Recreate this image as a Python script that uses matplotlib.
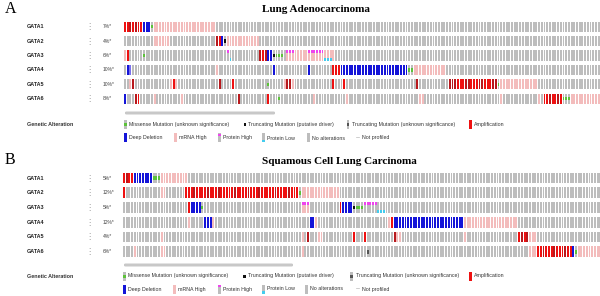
import matplotlib
matplotlib.use('Agg')
import matplotlib.pyplot as plt
from matplotlib.patches import Rectangle, FancyBboxPatch
from matplotlib.lines import Line2D
import matplotlib.transforms as mtransforms

# ---------------- data ----------------
genes = ['GATA1', 'GATA2', 'GATA3', 'GATA4', 'GATA5', 'GATA6']
luad_title = 'Lung Adenocarcinoma'
lusc_title = 'Squamous Cell Lung Carcinoma'
luad_pct = ['7%*', '4%*', '6%*', '10%*', '10%*', '8%*']
lusc_pct = ['5%*', '12%*', '5%*', '12%*', '4%*', '6%*']
luad_n = 176
lusc_n = 177

# run-length alteration codes per sample (code + count)
# . none, A amp, R amp(dark), D deep del, d deep del (light), H mRNA high,
# M missense, T truncating driver, U truncating unknown, P/p protein high, L/l protein low
luad_runs = [
    "A2 R1 A1 R1 A2 D3 M1 H23",
    ".11 H6 .17 R1 A1 D1 T1 H12",
    "H1 A1 .5 M1 .30 p1 L1 .10 R1 A1 R1 D2 T1 M3 .1 P3 H5 P6 l3 H1",
    ".1 D1 d1 .31 H1 .20 D1 .12 D1 .8 A3 D25 M2 H12",
    ".2 H1 R1 .13 H1 A1 H1 .15 R1 .4 A1 .12 M1 .5 H1 R2 H1 .14 A1 .3 A1 .26 R1 .11 R3 A3 R2 A3 R2 A3 R2 M1 H14",
    "D1 .3 R1 A1 .5 H1 .9 H1 .20 R1 .10 A1 .3 M1 .12 H1 .11 H1 .26 H2 .28 H1 .13 H1 .1 A2 R1 A2 R1 A1 M3 H11",
]
lusc_runs = [
    "A1 R1 A2 D7 M3 H10",
    "A1 .13 H2 .7 A3 R1 A4 R1 A3 R1 A5 R1 A4 R1 A3 R1 A5 R1 A4 R1 A3 M1 H14",
    ".24 A1 D4 M1 .36 P3 .11 A1 D4 T1 M3 p5 L3",
    ".24 H1 .5 D3 H1 .35 D2 H1 .26 H1 A1 D26 H20",
    ".14 H1 .51 H1 .1 R1 .3 H2 .11 A1 .3 A1 .10 R1 H2 .23 H1 .19 A1 R1 A1 R1 H3",
    ".4 H1 .9 H2 .50 H1 .23 U1 .59 H3 A2 R1 A3 R1 A3 R1 A2 D1 M1 H9",
]

legend_row1 = ['Missense Mutation (unknown significance)', 'Truncating Mutation (putative driver)',
               'Truncating Mutation (unknown significance)', 'Amplification']
legend_row2 = ['Deep Deletion', 'mRNA High', 'Protein High', 'Protein Low', 'No alterations', 'Not profiled']

# ---------------- style ----------------
GRAY = '#bdbdbd'
AMP = '#ee1111'
AMP_DARK = '#b8181c'
DEL = '#1414d8'
DEL_L = '#7a70ee'
MRNA = '#f3bcbc'
MIS = '#5cc23a'
TRUNC = '#111111'
TRUNC_U = '#555555'
PHIGH = '#ee44ee'
PLOW = '#44ccee'

base_color = {'.': GRAY, 'A': AMP, 'R': AMP_DARK, 'D': DEL, 'd': DEL_L, 'H': MRNA,
              'M': GRAY, 'T': GRAY, 'U': GRAY, 'P': MRNA, 'p': GRAY, 'L': GRAY, 'l': MRNA}
overlay = {'M': ('mid', MIS), 'T': ('mid', TRUNC), 'U': ('mid', TRUNC_U),
           'P': ('top', PHIGH), 'p': ('top', PHIGH), 'L': ('bot', PLOW), 'l': ('bot', PLOW)}


def decode(runs, n):
    out = []
    for tok in runs.split():
        out.extend(tok[0] * int(tok[1:]))
    out.extend('.' * (n - len(out)))
    return out[:n]


W, H = 600, 296
fig = plt.figure(figsize=(6.0, 2.96), dpi=100)
fig.patch.set_facecolor('white')

SANS = ['Liberation Sans', 'DejaVu Sans']
SERIF = ['Liberation Serif', 'DejaVu Serif']


def fx(x):
    return x / W


def fy(y):
    return 1 - y / H


def draw_panel(runs_list, n, pct, title, letter, letter_y, title_x, title_y,
               x0, row_top, row_step, scroll_y, scroll_x1, leg_y1, leg_y2, leg_x1, leg_x2):
    top = row_top - row_step / 2
    bot = row_top + row_step * 5.5
    ax = fig.add_axes([fx(x0), fy(bot), 1 - fx(x0) + 0.002, (bot - top) / H])
    ax.set_xlim(0, (W - x0) / 2.7)
    ax.set_ylim(5.5, -0.5)
    ax.axis('off')
    bh = 0.72
    bw = 0.7
    for r, runs in enumerate(runs_list):
        codes = decode(runs, n)
        xs = list(range(n))
        ax.bar(xs, [bh] * n, bottom=r - bh / 2, width=bw, align='edge',
               color=[base_color[c] for c in codes], linewidth=0)
        for i, c in enumerate(codes):
            if c in overlay:
                kind, col = overlay[c]
                if kind == 'mid':
                    ax.bar(i, bh / 3, bottom=r - bh / 6, width=bw, align='edge', color=col, linewidth=0)
                elif kind == 'top':
                    ax.bar(i, bh / 4, bottom=r - bh / 2, width=bw, align='edge', color=col, linewidth=0)
                else:
                    ax.bar(i, bh / 4, bottom=r + bh / 4, width=bw, align='edge', color=col, linewidth=0)
    tr = mtransforms.blended_transform_factory(fig.transFigure, ax.transData)
    for r, g in enumerate(genes):
        ax.text(fx(27), r, g, transform=tr, ha='left', va='center', fontsize=3.9,
                fontweight='bold', family=SANS, color='#222222', clip_on=False)
        ax.text(fx(89.5), r, '\u22ee', transform=tr, ha='center', va='center', fontsize=6,
                family=['DejaVu Sans'], color='#999999', clip_on=False)
        ax.text(fx(103), r, pct[r], transform=tr, ha='left', va='center', fontsize=3.6,
                family=SANS, color='#444444', clip_on=False)
    # letter and title
    fig.text(fx(5), fy(letter_y), letter, fontsize=11.5, family=SERIF, ha='left', va='center')
    fig.text(fx(title_x), fy(title_y), title, fontsize=8, family=SERIF, fontweight='bold',
             ha='center', va='center')
    # scrollbar
    fig.patches.append(FancyBboxPatch((fx(x0 + 1), fy(scroll_y + 1.5)), fx(scroll_x1 - x0 - 2), 3 / H,
                                      boxstyle='round,pad=0,rounding_size=0.003',
                                      transform=fig.transFigure, facecolor='#c8c8c8',
                                      edgecolor='none'))
    # legend
    fig.text(fx(27), fy(leg_y1), 'Genetic Alteration', fontsize=3.9, fontweight='bold',
             family=SANS, color='#333333', ha='left', va='center')

    def marker(x, y, base, ov=None):
        mw, mh = 2.6, 9.0
        fig.patches.append(Rectangle((fx(x), fy(y + mh / 2)), mw / W, mh / H,
                                     transform=fig.transFigure, facecolor=base, edgecolor='none'))
        if ov is not None:
            kind, col = ov
            if kind == 'mid':
                fig.patches.append(Rectangle((fx(x), fy(y + 1.5)), mw / W, 3 / H,
                                             transform=fig.transFigure, facecolor=col, edgecolor='none'))
            elif kind == 'top':
                fig.patches.append(Rectangle((fx(x), fy(y - mh / 2 + 2.2)), mw / W, 2.2 / H,
                                             transform=fig.transFigure, facecolor=col, edgecolor='none'))
            else:
                fig.patches.append(Rectangle((fx(x), fy(y + mh / 2)), mw / W, 2.2 / H,
                                             transform=fig.transFigure, facecolor=col, edgecolor='none'))

    def label(x, y, s):
        fig.text(fx(x), fy(y), s, fontsize=3.8, family=SANS, color='#333333', ha='left', va='center')

    specs1 = [(GRAY, ('mid', MIS)), ('white', ('mid', TRUNC)), (GRAY, ('mid', TRUNC_U)), (AMP, None)]
    for (base, ov), x, s in zip(specs1, leg_x1, legend_row1):
        marker(x, leg_y1, base, ov)
        label(x + 5, leg_y1, s)
    specs2 = [(DEL, None), (MRNA, None), (GRAY, ('top', PHIGH)), (GRAY, ('bot', PLOW)), (GRAY, None), (None, None)]
    for (base, ov), x, s in zip(specs2, leg_x2, legend_row2):
        if base is None:
            fig.lines.append(Line2D([fx(x - 1), fx(x + 2)], [fy(leg_y2 - 1), fy(leg_y2 - 1)],
                                    transform=fig.transFigure, color='#bbbbbb', linewidth=0.5))
        else:
            marker(x, leg_y2, base, ov)
        label(x + 5, leg_y2, s)


draw_panel(luad_runs, luad_n, luad_pct, luad_title, 'A', 9, 316, 10,
           124, 26.7, 14.4, 113, 276, 124.5, 138,
           [124, 243.5, 346.5, 469], [124, 174, 218, 262, 307, 357])
draw_panel(lusc_runs, lusc_n, lusc_pct, lusc_title, 'B', 160, 339, 162,
           123, 178, 14.75, 265, 294, 276, 289,
           [123, 243, 350.5, 469], [123, 173, 218, 262, 305, 357])

fig.savefig('out.png', dpi=100, facecolor='white')
